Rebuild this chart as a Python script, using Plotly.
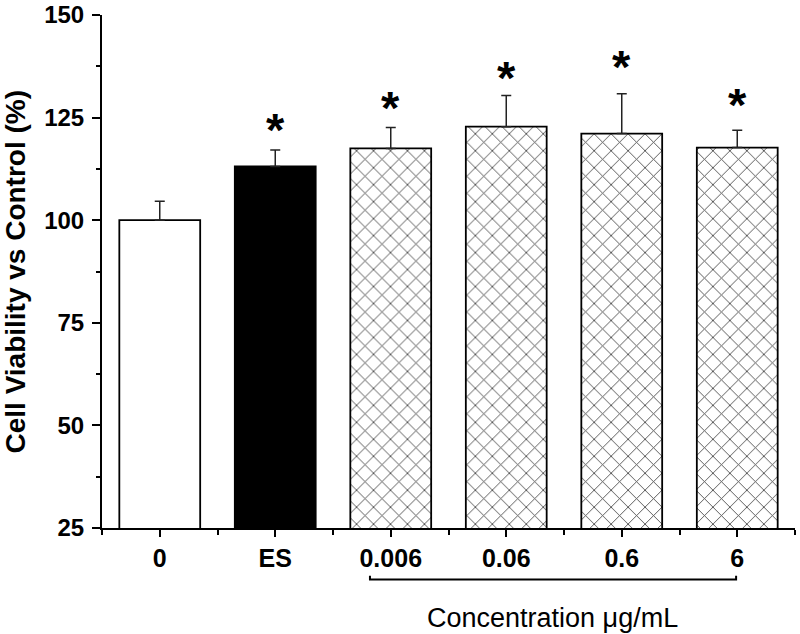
import plotly.graph_objects as go

categories = ["0", "ES", "0.006", "0.06", "0.6", "6"]
means = [100.0, 113.1, 117.5, 122.8, 121.1, 117.7]
errors = [4.6, 4.0, 5.1, 7.6, 9.7, 4.2]
star_y = [None, 123.2, 128.6, 135.9, 138.7, 129.3]
y_ticks = [25, 50, 75, 100, 125, 150]

FONT = "Liberation Sans, Arial, Helvetica, sans-serif"
xpos = list(range(len(categories)))

fill_colors = ["white", "black", "white", "white", "white", "white"]
shapes_pat = ["", "", "x", "x", "x", "x"]

fig = go.Figure()
fig.add_trace(go.Bar(
    x=xpos, y=means, width=0.7,
    marker=dict(
        color=fill_colors,
        line=dict(color="black", width=1.8),
        pattern=dict(shape=shapes_pat, fgcolor="#000000", bgcolor="white",
                     fgopacity=1, size=12, solidity=0.14),
    ),
    error_y=dict(type="data", symmetric=False, array=errors,
                 arrayminus=[0] * len(errors), color="#222222",
                 thickness=1.5, width=5),
    showlegend=False,
))

annotations = []
for x, s in zip(xpos, star_y):
    if s is None:
        continue
    annotations.append(dict(x=x, y=s, xref="x", yref="y", text="<b>*</b>",
                            showarrow=False, font=dict(family=FONT, size=47, color="black"),
                            yanchor="middle", xanchor="center", yshift=-5))

annotations.append(dict(x=0, y=0.5, xref="paper", yref="paper",
                        text="<b>Cell Viability vs Control (%)</b>", textangle=-90,
                        showarrow=False, xanchor="center", yanchor="middle", xshift=-87,
                        font=dict(family=FONT, size=28, color="black")))
annotations.append(dict(x=3.4, y=-0.1764, xref="x", yref="paper",
                        text="Concentration μg/mL", showarrow=False,
                        xanchor="center", yanchor="middle",
                        font=dict(family=FONT, size=27, color="black")))

shapes = [dict(type="path", xref="x", yref="paper",
               path="M 1.82,-0.093 L 1.82,-0.1004 L 4.99,-0.1004 L 4.99,-0.093",
               line=dict(color="black", width=2))]

fig.update_layout(
    width=800, height=634,
    margin=dict(l=102, r=5, t=15, b=106, autoexpand=False),
    plot_bgcolor="white", paper_bgcolor="white",
    annotations=annotations, shapes=shapes,
    xaxis=dict(
        automargin=False, ticklabeloverflow="allow",
        range=[-0.5, 5.5], tickmode="array", tickvals=xpos, ticktext=[f"<b>{c}</b>" for c in categories],
        showline=True, linecolor="black", linewidth=2,
        ticks="outside", ticklen=7, tickwidth=2, tickcolor="black",
        tickfont=dict(family=FONT, size=25, color="black"),
        ticklabelstandoff=0,
        minor=dict(tickmode="array", tickvals=[-0.5, 0.5, 1.5, 2.5, 3.5, 4.5, 5.5],
                   ticks="outside", ticklen=5, tickwidth=2, tickcolor="black"),
        showgrid=False, zeroline=False,
    ),
    yaxis=dict(
        automargin=False, ticklabeloverflow="allow",
        range=[25, 150], tickmode="array", tickvals=y_ticks,
        ticktext=[f"<b>{v}</b>" for v in y_ticks],
        showline=True, linecolor="black", linewidth=2,
        ticks="outside", ticklen=8, tickwidth=2, tickcolor="black",
        tickfont=dict(family=FONT, size=24, color="black"),
        ticklabelstandoff=3,
        minor=dict(tickmode="array", tickvals=[37.5, 62.5, 87.5, 112.5, 137.5],
                   ticks="outside", ticklen=4, tickwidth=2, tickcolor="black"),
        showgrid=False, zeroline=False,
    ),
)

# remove the browser's default 8px body margin so the figure fills the window
fig.write_html("out.html", config={"displayModeBar": False},
               post_script="document.body.style.margin='0px';")
